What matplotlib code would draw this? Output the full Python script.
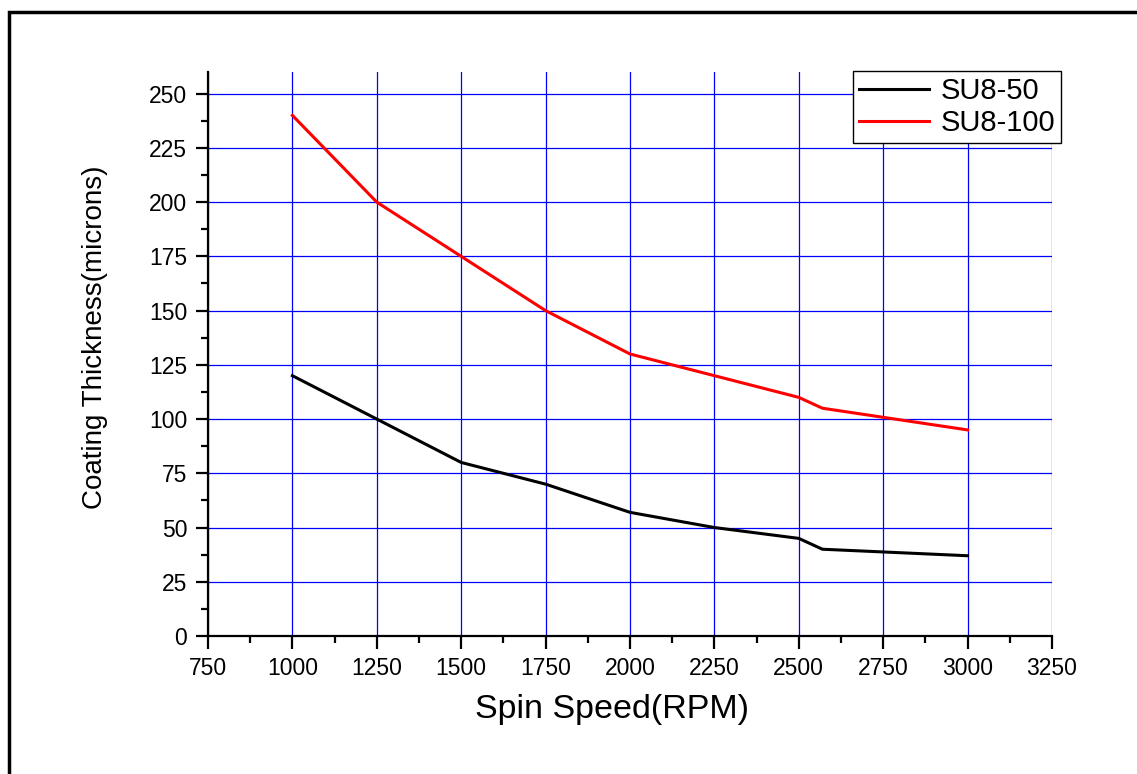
"""Spin speed vs coating thickness for SU8-50 and SU8-100."""

import matplotlib
matplotlib.use('Agg')
from matplotlib import pyplot as plt
from matplotlib.patches import Rectangle
from matplotlib.ticker import MultipleLocator

plt.rcParams['font.family'] = ['Liberation Sans', 'DejaVu Sans']

# Data
speed = [1000, 1250, 1500, 1750, 2000, 2250, 2500, 2570, 3000]
su8_50 = [120, 100, 80, 70, 57, 50, 45, 40, 37]
su8_100 = [240, 200, 175, 150, 130, 120, 110, 105, 95]

fig = plt.figure(figsize=(11.37, 7.74), dpi=100)

# outer frame (runs off the right and bottom edges)
fig.patches.append(Rectangle((9 / 1137, -0.05), 1.2, 1 - 12 / 774 + 0.05,
                             transform=fig.transFigure, fill=False,
                             edgecolor='black', linewidth=2.5))

ax = fig.add_axes([208 / 1137, 1 - 636 / 774, 844 / 1137, 564 / 774])

ax.plot(speed, su8_50, color='black', linewidth=2.2, label='SU8-50', zorder=3)
ax.plot(speed, su8_100, color='#ff0000', linewidth=2.2, label='SU8-100', zorder=3)

ax.set_xlim(750, 3250)
ax.set_ylim(0, 260)
ax.xaxis.set_major_locator(MultipleLocator(250))
ax.xaxis.set_minor_locator(MultipleLocator(125))
ax.yaxis.set_major_locator(MultipleLocator(25))
ax.yaxis.set_minor_locator(MultipleLocator(12.5))

ax.grid(True, which='major', color='#0000ff', linewidth=0.9)
ax.set_axisbelow(True)

for side in ['top', 'right']:
    ax.spines[side].set_visible(False)
for side in ['left', 'bottom']:
    ax.spines[side].set_linewidth(1.6)

ax.tick_params(which='major', direction='out', length=9, width=1.6,
               labelsize=16.5, pad=6)
ax.tick_params(which='minor', direction='out', length=5, width=1.6)

ax.set_xlabel('Spin Speed(RPM)', fontsize=24.5, va='center')
ax.set_ylabel('Coating Thickness(microns)', fontsize=20, va='center')
ax.xaxis.set_label_coords(0.479, -0.131)
ax.yaxis.set_label_coords(-0.134, 0.53)

leg = ax.legend(loc='upper right', bbox_to_anchor=(1061 / 1137, 1 - 71 / 774),
                bbox_transform=fig.transFigure, fontsize=21, fancybox=False,
                edgecolor='black', framealpha=1, handlelength=2.4,
                borderpad=0.2, labelspacing=0.15, handletextpad=0.4,
                borderaxespad=0)
leg.get_frame().set_linewidth(1.0)

fig.savefig('out.png', dpi=100)
